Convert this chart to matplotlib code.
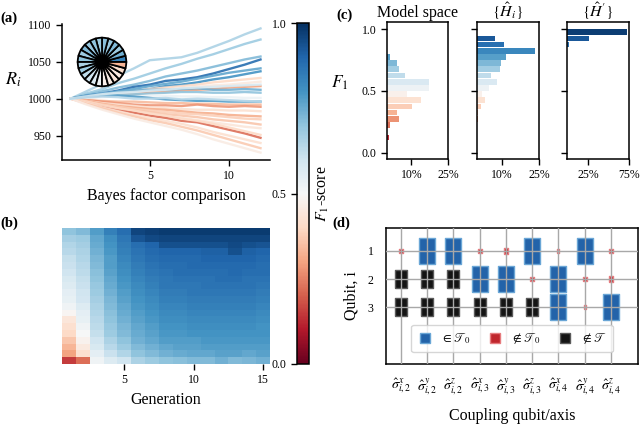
import numpy as np
import matplotlib as mpl
import matplotlib.pyplot as plt
from matplotlib.lines import Line2D

plt.rcParams['font.family'] = 'serif'
plt.rcParams['font.serif'] = ['Liberation Serif', 'DejaVu Serif']
plt.rcParams['mathtext.fontset'] = 'stix'
plt.rcParams['xtick.labelsize'] = 8.5
plt.rcParams['ytick.labelsize'] = 8.5
plt.rcParams['axes.linewidth'] = 1.1

cmap = plt.get_cmap('RdBu')
norm = mpl.colors.Normalize(0, 1)

# (a) ratings over bayes factor comparisons
bf_steps = list(range(13))
rating_f1 = [0.66, 0.68, 0.72, 0.88, 0.76, 0.80, 0.40, 0.45, 0.30, 0.74, 0.70, 0.53, 0.78,
             0.34, 0.28, 0.42, 0.32, 0.38, 0.36, 0.44, 0.22, 0.40, 0.42, 0.37, 0.46, 0.58, 0.64]
ratings = [
    [1000, 1010, 1020, 1031, 1041, 1052, 1054, 1056, 1062, 1070, 1078, 1087, 1095],
    [1000, 1007, 1013, 1021, 1027, 1034, 1041, 1047, 1054, 1060, 1067, 1074, 1080],
    [1000, 1005, 1010, 1015, 1019, 1024, 1030, 1034, 1038, 1043, 1048, 1053, 1057],
    [1000, 1004, 1007, 1011, 1016, 1019, 1024, 1026, 1029, 1034, 1040, 1046, 1053],
    [1000, 1003, 1006, 1010, 1013, 1017, 1020, 1023, 1027, 1031, 1035, 1038, 1041],
    [1000, 1002, 1005, 1007, 1010, 1013, 1017, 1019, 1022, 1026, 1029, 1033, 1037],
    [1000, 1003, 1005, 1008, 1010, 1013, 1015, 1017, 1019, 1022, 1024, 1026, 1028],
    [1000, 1002, 1004, 1006, 1008, 1010, 1012, 1014, 1016, 1018, 1019, 1021, 1023],
    [1000, 1001, 1003, 1004, 1006, 1008, 1009, 1011, 1012, 1013, 1015, 1016, 1017],
    [1000, 1004, 1007, 1009, 1011, 1012, 1012, 1013, 1014, 1012, 1012, 1013, 1012],
    [1000, 1002, 1004, 1005, 1006, 1007, 1008, 1009, 1009, 1008, 1008, 1009, 1008],
    [1000, 1001, 1002, 1003, 1003, 1004, 1004, 1003, 1003, 1002, 1002, 1001, 1001],
    [1000, 1003, 1004, 1004, 1003, 1001, 999, 998, 997, 997, 996, 996, 996],
    [1000, 998, 997, 996, 996, 995, 994, 994, 993, 993, 992, 992, 992],
    [1000, 998, 996, 994, 992, 991, 991, 990, 992, 990, 989, 990, 989],
    [1000, 997, 994, 992, 990, 988, 987, 986, 985, 985, 984, 984, 983],
    [1000, 997, 993, 990, 988, 986, 985, 983, 981, 980, 978, 977, 976],
    [1000, 996, 992, 989, 986, 984, 982, 980, 979, 977, 975, 973, 972],
    [1000, 996, 991, 988, 985, 982, 979, 977, 975, 972, 970, 968, 965],
    [1000, 995, 990, 986, 982, 979, 976, 974, 971, 968, 965, 962, 960],
    [1000, 995, 990, 985, 981, 977, 974, 970, 968, 963, 958, 953, 947],
    [1000, 996, 991, 987, 984, 980, 977, 973, 970, 966, 961, 956, 951],
    [1000, 994, 988, 983, 978, 974, 970, 966, 961, 955, 950, 945, 940],
    [1000, 993, 987, 981, 976, 971, 967, 962, 957, 951, 945, 939, 933],
    [1000, 992, 985, 979, 973, 968, 963, 958, 952, 945, 939, 933, 927],
    [1000, 1003, 1006, 1008, 1009, 1011, 1012, 1014, 1015, 1016, 1017, 1018, 1019],
    [1000, 1002, 1003, 1002, 1000, 1000, 1001, 999, 1000, 999, 998, 997, 996],
]
pie_f1 = [0.84, 0.74, 0.68, 0.72, 0.69, 0.71, 0.68, 0.70, 0.69, 0.72, 0.68, 0.70,
          0.66, 0.68, 0.63, 0.60, 0.57, 0.52, 0.47, 0.46, 0.44, 0.45, 0.42, 0.33]

# (b) f1 per generation, sorted bottom -> top
generations = list(range(1, 16))
gen_f1 = [
    [0.15, 0.30, 0.33, 0.36, 0.40, 0.42, 0.44, 0.49, 0.52, 0.54, 0.55, 0.57, 0.58, 0.60, 0.61, 0.62, 0.64, 0.65, 0.67, 0.70],
    [0.22, 0.42, 0.45, 0.48, 0.50, 0.52, 0.54, 0.55, 0.57, 0.59, 0.60, 0.61, 0.62, 0.63, 0.64, 0.65, 0.66, 0.67, 0.68, 0.72],
    [0.52, 0.55, 0.58, 0.60, 0.62, 0.63, 0.64, 0.65, 0.66, 0.67, 0.68, 0.69, 0.70, 0.71, 0.72, 0.73, 0.74, 0.75, 0.76, 0.78],
    [0.57, 0.61, 0.64, 0.66, 0.68, 0.69, 0.70, 0.71, 0.72, 0.73, 0.74, 0.75, 0.76, 0.77, 0.78, 0.78, 0.79, 0.80, 0.81, 0.84],
    [0.60, 0.65, 0.68, 0.70, 0.72, 0.73, 0.74, 0.75, 0.76, 0.77, 0.78, 0.79, 0.80, 0.81, 0.82, 0.83, 0.84, 0.85, 0.86, 0.88],
    [0.66, 0.70, 0.72, 0.74, 0.75, 0.76, 0.77, 0.78, 0.79, 0.80, 0.81, 0.82, 0.83, 0.84, 0.85, 0.86, 0.87, 0.88, 0.93, 0.96],
    [0.68, 0.72, 0.74, 0.76, 0.77, 0.78, 0.79, 0.80, 0.81, 0.82, 0.83, 0.84, 0.85, 0.86, 0.87, 0.88, 0.89, 0.90, 0.95, 0.97],
    [0.70, 0.74, 0.76, 0.78, 0.79, 0.80, 0.81, 0.82, 0.83, 0.84, 0.85, 0.86, 0.86, 0.87, 0.88, 0.89, 0.90, 0.94, 0.96, 0.98],
    [0.71, 0.75, 0.77, 0.78, 0.79, 0.80, 0.81, 0.82, 0.83, 0.84, 0.85, 0.86, 0.87, 0.88, 0.88, 0.89, 0.90, 0.94, 0.96, 0.98],
    [0.72, 0.76, 0.77, 0.78, 0.80, 0.81, 0.82, 0.83, 0.84, 0.85, 0.86, 0.86, 0.87, 0.88, 0.89, 0.89, 0.90, 0.94, 0.96, 0.98],
    [0.72, 0.76, 0.78, 0.79, 0.80, 0.81, 0.82, 0.83, 0.84, 0.85, 0.86, 0.87, 0.87, 0.88, 0.89, 0.90, 0.91, 0.94, 0.96, 0.98],
    [0.74, 0.77, 0.78, 0.79, 0.80, 0.81, 0.82, 0.83, 0.84, 0.85, 0.86, 0.87, 0.88, 0.88, 0.89, 0.90, 0.91, 0.94, 0.96, 0.98],
    [0.72, 0.77, 0.78, 0.79, 0.80, 0.81, 0.82, 0.83, 0.84, 0.85, 0.86, 0.87, 0.88, 0.89, 0.89, 0.90, 0.94, 0.95, 0.96, 0.98],
    [0.73, 0.76, 0.78, 0.79, 0.80, 0.81, 0.82, 0.83, 0.84, 0.85, 0.86, 0.87, 0.87, 0.88, 0.89, 0.90, 0.91, 0.94, 0.96, 0.98],
    [0.74, 0.77, 0.78, 0.79, 0.80, 0.80, 0.81, 0.82, 0.83, 0.84, 0.85, 0.86, 0.87, 0.88, 0.88, 0.89, 0.90, 0.93, 0.96, 0.98],
]

# (c) f1 histograms, bins of 0.05
bin_centers = [0.025 + 0.05 * k for k in range(20)]
model_space = [0, 0, 0.011, 0, 0.015, 0.049, 0.043, 0.103, 0.139, 0.083,
               0.173, 0.173, 0.073, 0.051, 0.042, 0.012, 0, 0, 0, 0]
h_i = [0, 0, 0, 0, 0, 0.005, 0.004, 0.016, 0.032, 0.020,
       0.050, 0.081, 0.057, 0.093, 0.096, 0.118, 0.233, 0.111, 0.073, 0]
h_prime = [0, 0, 0, 0, 0, 0, 0, 0, 0, 0,
           0, 0, 0, 0, 0, 0, 0, 0.016, 0.260, 0.726]

# (d) term grid
couplings = [r'$\hat{\sigma}^{x}_{i,2}$', r'$\hat{\sigma}^{y}_{i,2}$', r'$\hat{\sigma}^{z}_{i,2}$',
             r'$\hat{\sigma}^{x}_{i,3}$', r'$\hat{\sigma}^{y}_{i,3}$', r'$\hat{\sigma}^{z}_{i,3}$',
             r'$\hat{\sigma}^{x}_{i,4}$', r'$\hat{\sigma}^{y}_{i,4}$', r'$\hat{\sigma}^{z}_{i,4}$']
qubits = [1, 2, 3]
term_type = [
    ['out', 'in', 'in', 'out', 'out', 'in', 'out', 'in', 'out'],
    ['not', 'not', 'not', 'in', 'in', 'out', 'in', 'out', 'out'],
    ['not', 'not', 'not', 'not', 'not', 'not', 'in', 'out', 'in'],
]
marker_px = [
    [5, 26, 26, 5, 6, 26, 3.5, 26, 5],
    [18, 18, 18, 26, 26, 5, 26, 5, 6],
    [18, 18, 18, 18, 18, 18, 26, 3.5, 26],
]
type_face = {'in': '#2363a9', 'out': '#c0262d', 'not': '#141414'}
type_edge = {'in': '#6aa6d6', 'out': '#e67b7e', 'not': '#5a5a5a'}

fig = plt.figure(figsize=(6.4, 4.24), dpi=100)
W, H = 640, 424


def px_axes(x0, y0, x1, y1):
    return fig.add_axes([x0 / W, 1 - y1 / H, (x1 - x0) / W, (y1 - y0) / H])


# ---- (a)
ax_a = px_axes(62, 24, 270, 160)
for f1, r in zip(rating_f1, ratings):
    ax_a.plot(bf_steps, r, color=cmap(norm(f1)), lw=1.7, alpha=0.9)
ax_a.set_xlim(-0.55, 12.6)
ax_a.set_ylim(917, 1101)
ax_a.set_xticks([5, 10])
ax_a.set_yticks([950, 1000, 1050, 1100])
ax_a.spines['top'].set_visible(False)
ax_a.spines['right'].set_visible(False)
ax_a.tick_params(length=4, width=1)
ax_a.set_xlabel('Bayes factor comparison', fontsize=11.5)
ax_a.set_ylabel('$R_i$', fontsize=13, rotation=0, ha='center', va='center')
ax_a.yaxis.set_label_coords(-0.235, 0.59)

ax_pie = px_axes(77, 37, 127, 87)
ax_pie.pie(np.ones(len(pie_f1)), colors=cmap(norm(pie_f1)), startangle=0,
           wedgeprops=dict(edgecolor='black', linewidth=1.3))
ax_pie.set_xlim(-1.03, 1.03)
ax_pie.set_ylim(-1.03, 1.03)
ax_pie.set_aspect('equal')

# ---- (b)
ax_b = px_axes(62, 228, 270, 364)
grid = np.array(gen_f1).T
ax_b.pcolormesh(np.arange(0.5, 16, 1), np.arange(grid.shape[0] + 1), grid,
                cmap=cmap, norm=norm)
ax_b.set_xlim(0.5, 15.5)
ax_b.set_xticks([5, 10, 15])
ax_b.set_yticks([])
for s in ax_b.spines.values():
    s.set_visible(False)
ax_b.tick_params(length=4, width=1)
ax_b.set_xlabel('Generation', fontsize=11.5)

# ---- colorbar
cax = px_axes(297, 23, 309, 364)
cb = fig.colorbar(mpl.cm.ScalarMappable(norm=norm, cmap=cmap), cax=cax)
cb.set_ticks([0, 0.5, 1.0])
cb.set_ticklabels(['0.0', '0.5', '1.0'])
cax.yaxis.set_ticks_position('left')
cax.yaxis.set_label_position('right')
cax.tick_params(length=4, width=1)
cb.outline.set_linewidth(1.1)
cb.set_label('$F_1$-score', fontsize=11.5, labelpad=4)

# ---- (c)
c_boxes = [(386.7, 448.3), (476.7, 539), (567.3, 629)]
c_data = [model_space, h_i, h_prime]
c_titles = ['Model space', r'$\{\hat{H}_i\}$', r"$\{\hat{H}'\}$"]
c_xmax = [0.25, 0.25, 0.75]
c_ticks = [[0.1, 0.25], [0.1, 0.25], [0.25, 0.75]]
c_labels = [['10%', '25%'], ['10%', '25%'], ['25%', '75%']]
for i in range(3):
    ax = px_axes(c_boxes[i][0], 22.3, c_boxes[i][1], 159)
    ax.barh(bin_centers, c_data[i], height=0.046, color=cmap(norm(bin_centers)))
    ax.set_xlim(0, c_xmax[i])
    ax.set_ylim(-0.05, 1.055)
    ax.set_xticks(c_ticks[i])
    ax.set_xticklabels(c_labels[i])
    ax.set_yticks([0, 0.5, 1.0])
    ax.tick_params(length=4, width=1)
    if i == 0:
        ax.set_yticklabels(['0.0', '0.5', '1.0'])
        ax.set_ylabel('$F_1$', fontsize=12.5, rotation=0, ha='center', va='center')
        ax.yaxis.set_label_coords(-0.76, 0.56)
    else:
        ax.set_yticklabels([])
    ax.set_title(c_titles[i], fontsize=11.5, pad=4)

# ---- (d)
ax_d = px_axes(386, 228, 638, 364)
rect = [(-0.62, -1), (0.62, -1), (0.62, 1), (-0.62, 1), (-0.62, -1)]
for r, q in enumerate(qubits):
    for c in range(len(couplings)):
        t = term_type[r][c]
        ax_d.scatter([c], [q], s=(marker_px[r][c] * 0.72) ** 2, marker=rect,
                     facecolor=type_face[t], edgecolor=type_edge[t], linewidth=1, zorder=1)
ax_d.set_axisbelow(False)
ax_d.grid(True, color='#a8a8a8', lw=1)
ax_d.set_xlim(-0.57, 9.03)
ax_d.set_ylim(5, 0.2)
ax_d.set_xticks(range(len(couplings)))
ax_d.set_xticklabels(couplings, fontsize=10)
ax_d.set_yticks(qubits)
ax_d.tick_params(length=0, pad=9)
ax_d.set_xlabel('Coupling qubit/axis', fontsize=11.5, labelpad=7)
ax_d.set_ylabel('Qubit, i', fontsize=11.5, labelpad=6)
handles = [Line2D([], [], ls='', marker='s', markersize=6.5, markerfacecolor=type_face[t],
                  markeredgecolor=type_edge[t]) for t in ['in', 'out', 'not']]
ax_d.legend(handles, [r'$\in \mathscr{T}_0$', r'$\notin \mathscr{T}_0$', r'$\notin \mathscr{T}$'],
            ncol=3, loc='lower center', bbox_to_anchor=(0.5, 0.04), fontsize=9,
            handlelength=1.2, handletextpad=0.7, columnspacing=1.3, borderpad=0.5)

# panel labels
for lab, x, y in [('(a)', 0, 18), ('(b)', 0, 223), ('(c)', 336, 15), ('(d)', 332, 223)]:
    fig.text(x / W, 1 - y / H, lab, fontsize=10.5, fontweight='bold', va='center')

fig.savefig('out.png', dpi=100)
